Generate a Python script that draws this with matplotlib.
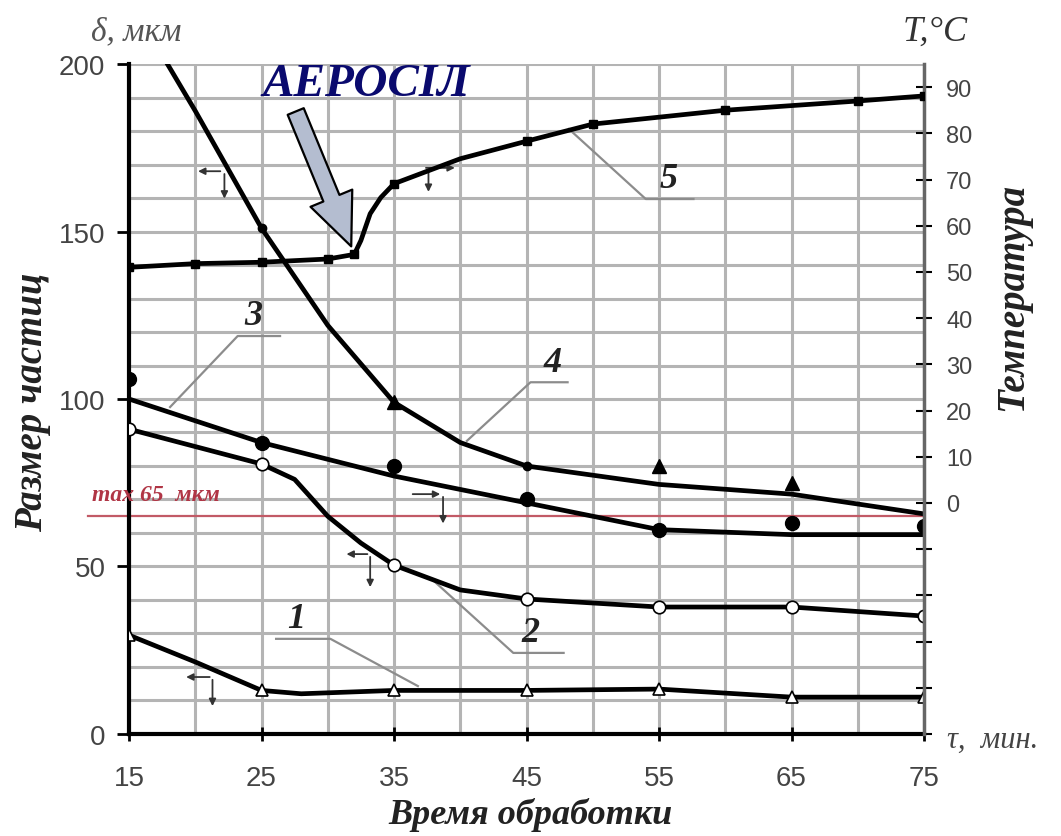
import matplotlib
matplotlib.use("Agg")
import matplotlib.pyplot as plt

# time of treatment, min
time_marks = [15, 25, 35, 45, 55, 65, 75]

# curve 1 (particle size, um)
c1_line_x = [15, 20, 25, 28, 35, 45, 55, 65, 75]
c1_line_y = [29.5, 21.5, 13, 12, 13, 13, 13.4, 11, 11]
c1_pts = [29.5, 13, 13, 13, 13.4, 11, 11]

# curve 2
c2_line_x = [15, 25, 27.5, 30, 32.5, 35, 40, 45, 55, 65, 75]
c2_line_y = [91, 80.6, 76, 65, 57, 50.4, 43, 40.3, 37.9, 37.9, 35.2]
c2_pts = [91, 80.6, 50.4, 40.3, 37.9, 37.9, 35.2]

# curve 3
c3_line_y = [100, 87, 77, 69, 61, 59.5, 59.5]
c3_pts = [106, 87, 80, 70, 61, 63, 62]

# curve 4
c4_line_x = [17.6, 20, 25, 30, 35, 37.5, 40, 42.5, 45, 55, 65, 75]
c4_line_y = [202, 186, 151, 122, 99, 93, 87, 83.5, 80, 74.5, 71.6, 65.7]
c4_tri_x = [35, 55, 65]
c4_tri_y = [99, 80, 75]
c4_dot_x = [25, 45]
c4_dot_y = [151, 80]

# curve 5 (temperature, C)
c5_line_x = [15, 20, 25, 30, 32, 32.5, 33.2, 34, 35, 40, 45, 50, 55, 60, 65, 70, 75]
c5_line_y = [51, 51.8, 52.1, 52.8, 53.8, 56.8, 62.6, 66.1, 69.1, 74.5, 78.3, 82, 83.5, 85, 86, 87, 88.1]
c5_pts_x = [15, 20, 25, 30, 32, 35, 45, 50, 60, 70, 75]
c5_pts_y = [51, 51.8, 52.1, 52.8, 53.8, 69.1, 78.3, 82, 85, 87, 88.1]

limit_size = 65

serif = ['Liberation Serif', 'DejaVu Serif']
sans = ['Liberation Sans', 'DejaVu Sans']

fig = plt.figure(figsize=(10.61, 8.37), dpi=100)
ax = fig.add_axes([0.1216, 0.1219, 0.7493, 0.8004])
ax.set_xlim(15, 75)
ax.set_ylim(0, 200)

ax.set_xticks(time_marks)
ax.set_xticks(range(20, 75, 10), minor=True)
ax.set_yticks(range(0, 201, 50))
ax.set_yticks(range(10, 200, 10), minor=True)
ax.grid(True, which='both', color='#b4b4b4', lw=2.2)
ax.set_axisbelow(True)
ax.spines['top'].set_visible(False)
ax.spines['right'].set_visible(False)
ax.spines['left'].set_linewidth(3)
ax.spines['bottom'].set_linewidth(3)
ax.tick_params(axis='y', which='major', length=9, width=2, pad=8, labelsize=20, labelcolor='#444')
ax.tick_params(axis='x', which='major', direction='inout', length=10, width=2, pad=17, labelsize=20, labelcolor='#444')
ax.tick_params(which='minor', length=0)
for lab in ax.get_xticklabels() + ax.get_yticklabels():
    lab.set_family(sans)

lw = 3.4
ax.plot(c1_line_x, c1_line_y, color='black', lw=lw, zorder=3)
ax.plot(time_marks, c1_pts, ls='none', marker='^', ms=8, mfc='white', mec='black', mew=1.2, zorder=4)
ax.plot(c2_line_x, c2_line_y, color='black', lw=lw, zorder=3)
ax.plot(time_marks, c2_pts, ls='none', marker='o', ms=9, mfc='white', mec='black', mew=1.2, zorder=4)
ax.plot(time_marks, c3_line_y, color='black', lw=lw, zorder=3)
ax.plot(time_marks, c3_pts, ls='none', marker='o', ms=10, color='black', zorder=4)
ax.plot(c4_line_x, c4_line_y, color='black', lw=lw, zorder=3)
ax.plot(c4_tri_x, c4_tri_y, ls='none', marker='^', ms=10, color='black', zorder=4)
ax.plot(c4_dot_x, c4_dot_y, ls='none', marker='o', ms=6, color='black', zorder=4)

# max size line
ax.plot([11.9, 75], [limit_size, limit_size], color='#c25a66', lw=1.6, clip_on=False, zorder=2)
ax.text(12.2, 71.5, 'max 65  мкм', color='#b03545', fontsize=17, fontstyle='italic',
        fontweight='bold', family=serif, va='center', ha='left')

# temperature axis
ax2 = ax.twinx()
ax2.set_ylim(-50, 95)
ax2.set_yticks(range(-50, 91, 10))
ax2.set_yticklabels([''] * 5 + [str(v) for v in range(0, 91, 10)])
ax2.tick_params(axis='y', direction='inout', length=12, width=1.5, pad=10, labelsize=17, labelcolor='#444')
for lab in ax2.get_yticklabels():
    lab.set_family(sans)
for s in ['top', 'left', 'bottom']:
    ax2.spines[s].set_visible(False)
ax2.spines['right'].set_color('#666')
ax2.spines['right'].set_linewidth(2.5)
ax2.plot(c5_line_x, c5_line_y, color='black', lw=lw, zorder=3)
ax2.plot(c5_pts_x, c5_pts_y, ls='none', marker='s', ms=6, color='black', zorder=4)

# curve labels with leader lines
leader = dict(color='#8c8c8c', lw=1.6, zorder=2)
labels = [
    ('1', (27.6, 29.5), [(36.8, 14.3), (30.2, 28.4), (26.1, 28.4)]),
    ('2', (45.3, 25.5), [(38.0, 45.7), (44.0, 24.2), (47.8, 24.2)]),
    ('3', (24.4, 120.0), [(18.1, 97.6), (23.2, 118.8), (26.4, 118.8)]),
    ('4', (47.0, 106.0), [(40.5, 87.5), (45.3, 105.0), (48.1, 105.0)]),
    ('5', (55.7, 161.0), [(48.2, 180.6), (54.0, 159.7), (57.6, 159.7)]),
]
for txt, pos, path in labels:
    ax.plot([p[0] for p in path], [p[1] for p in path], **leader)
    ax.text(pos[0], pos[1], txt, fontsize=26, fontstyle='italic', fontweight='bold',
            family=serif, color='#222', ha='center', va='bottom', zorder=5)

# small axis pointers
pointers = [
    ((22.1, 168), (20.0, 168), (22.2, 159)),
    ((37.2, 169), (39.8, 169), (37.6, 161)),
    ((36.2, 71.6), (38.7, 71.6), (38.7, 62)),
    ((33.2, 53.7), (31.2, 53.7), (33.2, 43)),
    ((21.3, 17), (19.1, 17), (21.3, 7.5)),
]
for start, end, down in pointers:
    ax.annotate('', xy=end, xytext=start,
                arrowprops=dict(arrowstyle='-|>', color='#333', lw=1.3, mutation_scale=10), zorder=5)
    ax.annotate('', xy=down, xytext=(down[0], start[1]),
                arrowprops=dict(arrowstyle='-|>', color='#333', lw=1.3, mutation_scale=10), zorder=5)

# AEROSIL marker
ax.text(32.9, 194, 'АЕРОСІЛ', color='#0a0a6e', fontsize=34, fontstyle='italic',
        fontweight='bold', family=serif, ha='center', va='center', zorder=6)
ax.annotate('', xy=(31.85, 144.8), xytext=(27.5, 186.6),
            arrowprops=dict(arrowstyle='simple,head_length=1.5,head_width=1.3,tail_width=0.5',
                            fc='#b4bdd0', ec='black', lw=1.6, mutation_scale=25), zorder=6)

# axis titles
fig.text(0.128, 0.962, 'δ, мкм', fontsize=24, fontstyle='italic', family=serif,
         color='#555', ha='center', va='center')
fig.text(0.881, 0.962, 'T,°C', fontsize=26, fontstyle='italic', family=serif,
         color='#333', ha='center', va='center')
fig.text(0.893, 0.116, 'τ,  мин.', fontsize=22, fontstyle='italic', family=serif,
         color='#444', ha='left', va='center')
fig.text(0.5, 0.026, 'Время обработки', fontsize=26, fontstyle='italic', fontweight='bold',
         family=serif, color='#222', ha='center', va='center')
fig.text(0.031, 0.52, 'Размер частиц', fontsize=28, fontstyle='italic', fontweight='bold',
         family=serif, color='#222', ha='center', va='center', rotation=90)
fig.text(0.954, 0.645, 'Температура', fontsize=28, fontstyle='italic', fontweight='bold',
         family=serif, color='#222', ha='center', va='center', rotation=90)

fig.savefig('out.png', dpi=100)
